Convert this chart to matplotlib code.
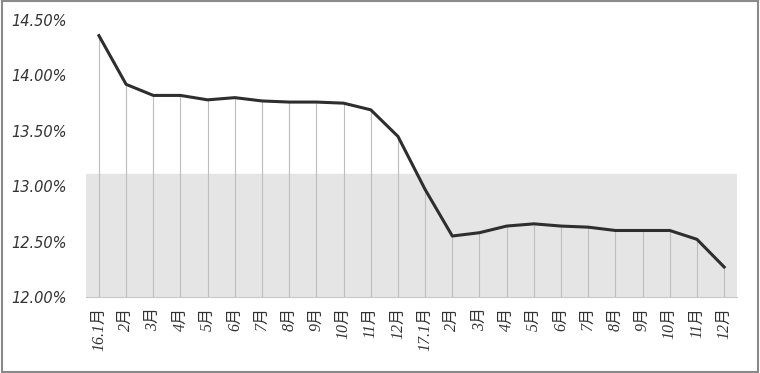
import matplotlib.pyplot as plt
from matplotlib.patches import Rectangle
import numpy as np

# month labels
months = ["16.1月", "2月", "3月", "4月", "5月", "6月", "7月", "8月", "9月", "10月", "11月", "12月",
          "17.1月", "2月", "3月", "4月", "5月", "6月", "7月", "8月", "9月", "10月", "11月", "12月"]

# rate, percent
rates = [14.36, 13.92, 13.82, 13.82, 13.78, 13.80, 13.77, 13.76, 13.76, 13.75, 13.69, 13.45,
         12.97, 12.55, 12.58, 12.64, 12.66, 12.64, 12.63, 12.60, 12.60, 12.60, 12.52, 12.27]

# shaded band
band_low = 12.0
band_high = 13.11

y_ticks = [12.0, 12.5, 13.0, 13.5, 14.0, 14.5]

plt.rcParams['font.family'] = ['DejaVu Sans', 'Noto Sans CJK SC']

fig = plt.figure(figsize=(7.6, 3.73), dpi=100)
ax = fig.add_axes([0.113, 0.204, 0.857, 0.742])

x = np.arange(len(rates))

ax.axhspan(band_low, band_high, color='#e5e5e5', zorder=0)
ax.vlines(x, band_low, rates, color='#bdbdbd', linewidth=0.8, zorder=1)
ax.plot(x, rates, color='#2e2e2e', linewidth=2.2, zorder=3)

ax.set_xlim(-0.48, len(rates) - 0.52)
ax.set_ylim(12.0, 14.5)

ax.set_yticks(y_ticks)
ax.set_yticklabels(["%.2f%%" % v for v in y_ticks], fontsize=10.5, style='italic', color='#333333')
ax.set_xticks(x)
ax.set_xticklabels(months, rotation=90, fontsize=11.5, style='italic', color='#333333',
                   family=['Liberation Serif', 'Noto Sans CJK SC'])
ax.tick_params(length=0)
ax.tick_params(axis='x', pad=7)
ax.tick_params(axis='y', pad=14)

for s in ['top', 'right', 'left']:
    ax.spines[s].set_visible(False)
ax.spines['bottom'].set_color('#c8c8c8')
ax.spines['bottom'].set_linewidth(0.8)

# outer frame
fig.patches.append(Rectangle((0.002, 0.004), 0.996, 0.992, transform=fig.transFigure,
                             fill=False, edgecolor='#8a8a8a', linewidth=1.5))

fig.savefig("out.png", dpi=100)
